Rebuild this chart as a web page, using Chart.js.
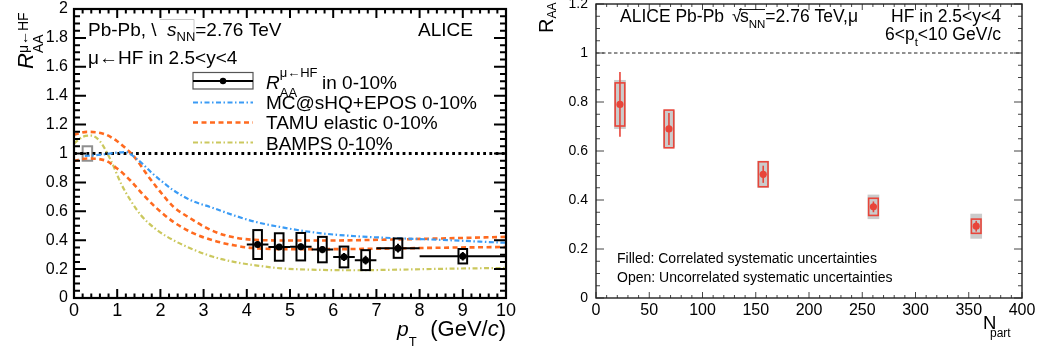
<!DOCTYPE html>
<html>
<head>
<meta charset="utf-8">
<script src="https://cdn.jsdelivr.net/npm/chart.js@4.4.1/dist/chart.umd.min.js"></script>
<style>
  html, body { margin: 0; padding: 0; background: #fff; overflow: hidden; }
  #wrap { position: relative; width: 1037px; height: 354px; }
  canvas { position: absolute; top: 0; }
  #cPt { left: 0; }
  #cNpart { left: 520px; }
</style>
</head>
<body>
<div id="wrap">
  <canvas id="cPt" width="520" height="354"></canvas>
  <canvas id="cNpart" width="517" height="354"></canvas>
</div>
<script>
// ---------- R_AA vs pT, muons from heavy-flavour decays, 0-10% ----------
const ptBinLow  = [4.0, 4.5, 5.0, 5.5, 6.0, 6.5, 7.0, 8.0];
const ptBinHigh = [4.5, 5.0, 5.5, 6.0, 6.5, 7.0, 8.0, 10.0];
const ptMean    = [4.25, 4.75, 5.25, 5.75, 6.25, 6.75, 7.5, 9.0];
const raaPt     = [0.370, 0.353, 0.355, 0.335, 0.284, 0.262, 0.345, 0.289];
const raaPtStat = [0.020, 0.020, 0.022, 0.025, 0.028, 0.030, 0.030, 0.030];
const raaPtSyst = [0.100, 0.095, 0.095, 0.088, 0.072, 0.069, 0.067, 0.050];
const normUncert = 0.05;          // global normalisation uncertainty at R_AA = 1
const normPt = 0.31;
const unityLevel = 1;

// model curves
const mcshqPt  = [0.25, 0.5, 0.75, 1.0, 1.2, 1.4, 1.6, 1.8, 2.0, 2.3, 2.7, 3.2, 3.7, 4.2, 4.8, 5.6, 6.4, 7.2, 8.0, 8.7, 9.4, 10.0];
const mcshqRaa = [0.983, 0.988, 0.996, 1.006, 1.010, 0.975, 0.925, 0.866, 0.815, 0.746, 0.677, 0.625, 0.572, 0.527, 0.490, 0.452, 0.430, 0.417, 0.408, 0.400, 0.390, 0.382];
const tamuHighPt  = [0.0, 0.3, 0.7, 1.0, 1.2, 1.4, 1.7, 2.0, 2.3, 2.7, 3.1, 3.5, 4.1, 5.0, 6.0, 7.2, 8.5, 10.0];
const tamuHighRaa = [1.130, 1.150, 1.135, 1.085, 1.035, 0.975, 0.850, 0.734, 0.632, 0.550, 0.480, 0.434, 0.404, 0.398, 0.398, 0.404, 0.412, 0.423];
const tamuLowPt  = [0.0, 0.3, 0.7, 1.0, 1.3, 1.6, 1.9, 2.3, 2.7, 3.2, 3.7, 4.1, 5.0, 6.0, 7.2, 8.5, 10.0];
const tamuLowRaa = [0.949, 0.965, 0.954, 0.896, 0.815, 0.715, 0.625, 0.527, 0.457, 0.400, 0.365, 0.347, 0.338, 0.338, 0.342, 0.348, 0.353];
const bampsPt  = [0.0, 0.2, 0.4, 0.6, 0.85, 1.1, 1.3, 1.55, 1.9, 2.3, 2.8, 3.2, 3.7, 4.2, 4.8, 5.5, 6.4, 7.5, 8.7, 10.0];
const bampsRaa = [1.069, 1.115, 1.124, 1.085, 0.954, 0.785, 0.680, 0.573, 0.475, 0.400, 0.331, 0.287, 0.250, 0.226, 0.205, 0.196, 0.192, 0.196, 0.203, 0.208];

const ptTickValues = [0, 1, 2, 3, 4, 5, 6, 7, 8, 9, 10];
const raaTickLabelsPt = ['0', '0.2', '0.4', '0.6', '0.8', '1', '1.2', '1.4', '1.6', '1.8', '2'];

// ---------- R_AA vs Npart, 6 < pT < 10 GeV/c ----------
const npart           = [22.5, 68.5, 157, 260.5, 357];
const raaNpart        = [0.790, 0.690, 0.505, 0.372, 0.293];
const raaNpartStat    = [0.132, 0.065, 0.035, 0.022, 0.022];
const raaNpartUncorr  = [0.088, 0.077, 0.051, 0.035, 0.029];
const raaNpartCorr    = [0.100, 0.075, 0.055, 0.050, 0.051];
const npartTickLabels = ['0', '50', '100', '150', '200', '250', '300', '350', '400'];
const raaTickLabelsNpart = ['0', '0.2', '0.4', '0.6', '0.8', '1', '1.2'];

// ---------- styling ----------
const FONT = "'Liberation Sans', Arial, Helvetica, sans-serif";
const BLUE = '#3a9bf5', ORANGE = '#ff6a1f', OLIVE = '#cbc85e', RED = '#e8453a', GREY_FILL = '#cbcbcb';
Chart.defaults.font.family = FONT;
Chart.defaults.color = '#000';

const zip = (xs, ys) => xs.map((x, i) => ({ x, y: ys[i] }));

function drawParts(ctx, x, y, parts) {
  let cx = x;
  for (const p of parts) {
    ctx.font = (p.italic ? 'italic ' : '') + p.size + 'px ' + FONT;
    const px = p.x !== undefined ? p.x : cx;
    ctx.fillText(p.t, px, y + (p.dy || 0));
    const w = ctx.measureText(p.t).width;
    if (!p.hold) cx = px + w;
  }
  return cx;
}

// frame with inward major/minor ticks on all four sides
function frameTicks(opt) {
  return {
    id: 'frameTicks',
    afterDatasetsDraw(chart) {
      const { ctx, chartArea: a, scales: { x, y } } = chart;
      ctx.save();
      ctx.strokeStyle = opt.color;
      ctx.lineWidth = opt.tickWidth;
      ctx.setLineDash([]);
      ctx.beginPath();
      const nx = Math.round((x.max - x.min) / opt.xMinor);
      for (let i = 0; i <= nx; i++) {
        const v = x.min + i * opt.xMinor;
        const major = i % Math.round(opt.xMajor / opt.xMinor) === 0;
        const len = major ? opt.xMajorLen : opt.xMinorLen;
        const px = x.getPixelForValue(v);
        ctx.moveTo(px, a.bottom); ctx.lineTo(px, a.bottom - len);
        ctx.moveTo(px, a.top); ctx.lineTo(px, a.top + len);
      }
      const ny = Math.round((y.max - y.min) / opt.yMinor);
      for (let i = 0; i <= ny; i++) {
        const v = y.min + i * opt.yMinor;
        const major = i % Math.round(opt.yMajor / opt.yMinor) === 0;
        const len = major ? opt.yMajorLen : opt.yMinorLen;
        const py = y.getPixelForValue(v);
        ctx.moveTo(a.left, py); ctx.lineTo(a.left + len, py);
        ctx.moveTo(a.right, py); ctx.lineTo(a.right - len, py);
      }
      ctx.stroke();
      ctx.lineWidth = opt.frameWidth;
      ctx.strokeStyle = opt.frameColor;
      ctx.strokeRect(a.left, a.top, a.right - a.left, a.bottom - a.top);
      ctx.restore();
    }
  };
}

function fixedAxis(size, isX) {
  return function (scale) {
    if (isX) scale.height = size; else scale.width = size;
    scale.paddingTop = 0; scale.paddingBottom = 0;
    scale.paddingLeft = 0; scale.paddingRight = 0;
  };
}

// ---------- left panel: boxes and error bars ----------
const ptErrors = {
  id: 'ptErrors',
  beforeDatasetsDraw(chart) {
    const { ctx, scales: { x, y } } = chart;
    ctx.save();
    // normalisation box
    ctx.strokeStyle = '#8f8f8f';
    ctx.lineWidth = 2;
    const nx0 = x.getPixelForValue(normPt - 0.11), nx1 = x.getPixelForValue(normPt + 0.11);
    const ny0 = y.getPixelForValue(unityLevel + normUncert), ny1 = y.getPixelForValue(unityLevel - normUncert);
    ctx.strokeRect(nx0, ny0, nx1 - nx0, ny1 - ny0);
    ctx.restore();
  },
  afterDatasetsDraw(chart) {
    const { ctx, scales: { x, y } } = chart;
    ctx.save();
    ctx.strokeStyle = '#000';
    ctx.lineWidth = 2;
    ctx.setLineDash([]);
    for (let i = 0; i < ptMean.length; i++) {
      const cx = x.getPixelForValue(ptMean[i]);
      const cy = y.getPixelForValue(raaPt[i]);
      // systematic box
      const bx0 = x.getPixelForValue(ptMean[i] - 0.1), bx1 = x.getPixelForValue(ptMean[i] + 0.1);
      const by0 = y.getPixelForValue(raaPt[i] + raaPtSyst[i]), by1 = y.getPixelForValue(raaPt[i] - raaPtSyst[i]);
      ctx.strokeRect(bx0, by0, bx1 - bx0, by1 - by0);
      // bin width and statistical bar
      ctx.beginPath();
      ctx.moveTo(x.getPixelForValue(ptBinLow[i]), cy);
      ctx.lineTo(x.getPixelForValue(ptBinHigh[i]), cy);
      ctx.moveTo(cx, y.getPixelForValue(raaPt[i] + raaPtStat[i]));
      ctx.lineTo(cx, y.getPixelForValue(raaPt[i] - raaPtStat[i]));
      ctx.stroke();
    }
    ctx.restore();
  }
};

// ---------- left panel: labels and legend ----------
const ptText = {
  id: 'ptText',
  afterDraw(chart) {
    const ctx = chart.ctx;
    const ds = chart.data.datasets;
    ctx.save();
    ctx.fillStyle = '#000';
    ctx.textAlign = 'left';
    ctx.textBaseline = 'alphabetic';

    drawParts(ctx, 88, 36, [{ t: 'Pb-Pb, \\', size: 19 }]);
    drawParts(ctx, 167, 36, [{ t: 's', size: 19, italic: true }, { t: 'NN', size: 13, dy: 5 }, { t: '=2.76 TeV', size: 19 }]);
    ctx.strokeStyle = '#c8c8c8'; ctx.lineWidth = 1;
    ctx.beginPath(); ctx.moveTo(160, 19.5); ctx.lineTo(194, 19.5); ctx.lineTo(194, 33); ctx.stroke();
    ctx.textAlign = 'right';
    drawParts(ctx, 473, 36, [{ t: 'ALICE', size: 19 }]);
    ctx.textAlign = 'left';
    drawParts(ctx, 88, 64, [{ t: 'μ←HF in 2.5<y<4', size: 19 }]);

    // legend
    const lx0 = 193, lx1 = 253;
    ctx.strokeStyle = '#555'; ctx.lineWidth = 1.2;
    ctx.strokeRect(lx0, 72.5, lx1 - lx0, 16.5);
    ctx.strokeStyle = '#000'; ctx.lineWidth = 2;
    ctx.beginPath(); ctx.moveTo(lx0, 81); ctx.lineTo(lx1, 81); ctx.stroke();
    ctx.beginPath(); ctx.arc(223, 81, 3.2, 0, Math.PI * 2); ctx.fill();
    const rows = [[1, 102.5], [2, 122.5], [4, 142.5]];
    for (const [k, ly] of rows) {
      ctx.strokeStyle = ds[k].borderColor;
      ctx.lineWidth = ds[k].borderWidth;
      ctx.setLineDash(ds[k].borderDash);
      ctx.beginPath(); ctx.moveTo(lx0, ly); ctx.lineTo(lx1, ly); ctx.stroke();
    }
    ctx.setLineDash([]);
    drawParts(ctx, 266, 88.5, [
      { t: 'R', size: 19, italic: true },
      { t: 'μ←HF', size: 13, dy: -12, hold: true },
      { t: 'AA', size: 13, dy: 8 }
    ]);
    drawParts(ctx, 322, 89, [{ t: 'in 0-10%', size: 19 }]);
    drawParts(ctx, 266, 108.5, [{ t: 'MC@sHQ+EPOS 0-10%', size: 19 }]);
    drawParts(ctx, 266, 129.3, [{ t: 'TAMU elastic 0-10%', size: 19 }]);
    drawParts(ctx, 266, 150, [{ t: 'BAMPS 0-10%', size: 19 }]);

    // x title
    drawParts(ctx, 397, 335.5, [{ t: 'p', size: 21, italic: true }, { t: 'T', size: 13, dy: 10.5 }]);
    ctx.font = '22px ' + FONT;
    const wA = ctx.measureText('(GeV/').width, wC2 = ctx.measureText(')').width;
    ctx.font = 'italic 22px ' + FONT;
    const wC = ctx.measureText('c').width;
    const start = 506 - (wA + wC + wC2);
    drawParts(ctx, start, 335.5, [{ t: '(GeV/', size: 22 }, { t: 'c', size: 22, italic: true }, { t: ')', size: 22 }]);

    // y title
    ctx.save();
    ctx.translate(33, 69);
    ctx.rotate(-Math.PI / 2);
    drawParts(ctx, 0, 0, [
      { t: 'R', size: 22, italic: true },
      { t: 'μ←HF', size: 14, dy: -5, hold: true },
      { t: 'AA', size: 14, dy: 10 }
    ]);
    ctx.restore();
    ctx.restore();
  }
};

const lineBase = { showLine: true, pointRadius: 0, fill: false, cubicInterpolationMode: 'monotone' };

new Chart(document.getElementById('cPt'), {
  type: 'scatter',
  data: {
    datasets: [
      { label: 'R_AA 0-10%', data: zip(ptMean, raaPt), pointRadius: 3.5, pointBackgroundColor: '#000', pointBorderColor: '#000', pointBorderWidth: 0, showLine: false },
      Object.assign({ label: 'MC@sHQ+EPOS 0-10%', data: zip(mcshqPt, mcshqRaa), borderColor: BLUE, borderWidth: 2.2, borderDash: [5, 2.5, 1.5, 2.5] }, lineBase),
      Object.assign({ label: 'TAMU elastic 0-10%', data: zip(tamuHighPt, tamuHighRaa), borderColor: ORANGE, borderWidth: 2.6, borderDash: [5, 3.5] }, lineBase),
      Object.assign({ label: 'TAMU elastic 0-10% (lower)', data: zip(tamuLowPt, tamuLowRaa), borderColor: ORANGE, borderWidth: 2.6, borderDash: [5, 3.5] }, lineBase),
      Object.assign({ label: 'BAMPS 0-10%', data: zip(bampsPt, bampsRaa), borderColor: OLIVE, borderWidth: 2.2, borderDash: [5, 2.5, 1.5, 2.5] }, lineBase),
      Object.assign({ label: 'unity', data: [{ x: ptTickValues[0], y: unityLevel }, { x: ptTickValues[ptTickValues.length - 1], y: unityLevel }], borderColor: '#000', borderWidth: 2.8, borderDash: [2.8, 3.4] }, lineBase)
    ]
  },
  options: {
    responsive: false, animation: false, devicePixelRatio: 1,
    layout: { padding: { top: 9, right: 14, left: 0, bottom: 0 } },
    plugins: { legend: { display: false }, tooltip: { enabled: false } },
    events: [],
    scales: {
      x: {
        type: 'linear', min: 0, max: 10,
        grid: { display: false, drawTicks: false }, border: { display: false },
        ticks: { stepSize: 1, autoSkip: false, maxRotation: 0, padding: 2, font: { size: 18 },
                 callback: (v) => { const i = ptTickValues.indexOf(v); return i >= 0 ? String(ptTickValues[i]) : ''; } },
        afterFit: fixedAxis(56, true)
      },
      y: {
        type: 'linear', min: 0, max: 2,
        grid: { display: false, drawTicks: false }, border: { display: false },
        ticks: { stepSize: 0.2, autoSkip: false, padding: 6, font: { size: 16 },
                 callback: (v) => raaTickLabelsPt[Math.round(v / 0.2)] },
        afterFit: fixedAxis(74, false)
      }
    }
  },
  plugins: [ptErrors, frameTicks({ xMajor: 1, xMinor: 0.2, yMajor: 0.2, yMinor: 0.05,
    xMajorLen: 9, xMinorLen: 4.5, yMajorLen: 12, yMinorLen: 6, tickWidth: 2, color: '#000', frameWidth: 2.2, frameColor: '#000' }), ptText]
});

// ---------- right panel ----------
const npartErrors = {
  id: 'npartErrors',
  beforeDatasetsDraw(chart) {
    const { ctx, scales: { x, y } } = chart;
    ctx.save();
    for (let i = 0; i < npart.length; i++) {
      const cx = x.getPixelForValue(npart[i]);
      // correlated systematics (filled)
      const gx0 = x.getPixelForValue(npart[i] - 5.5), gx1 = x.getPixelForValue(npart[i] + 5.5);
      const gy0 = y.getPixelForValue(raaNpart[i] + raaNpartCorr[i]), gy1 = y.getPixelForValue(raaNpart[i] - raaNpartCorr[i]);
      ctx.fillStyle = GREY_FILL;
      ctx.fillRect(gx0, gy0, gx1 - gx0, gy1 - gy0);
      // uncorrelated systematics (open)
      const rx0 = x.getPixelForValue(npart[i] - 4.5), rx1 = x.getPixelForValue(npart[i] + 4.5);
      const ry0 = y.getPixelForValue(raaNpart[i] + raaNpartUncorr[i]), ry1 = y.getPixelForValue(raaNpart[i] - raaNpartUncorr[i]);
      ctx.strokeStyle = RED; ctx.lineWidth = 1.6;
      ctx.strokeRect(rx0, ry0, rx1 - rx0, ry1 - ry0);
      // statistical
      ctx.beginPath();
      ctx.moveTo(cx, y.getPixelForValue(raaNpart[i] + raaNpartStat[i]));
      ctx.lineTo(cx, y.getPixelForValue(raaNpart[i] - raaNpartStat[i]));
      ctx.stroke();
    }
    ctx.restore();
  }
};

const npartText = {
  id: 'npartText',
  afterDraw(chart) {
    const ctx = chart.ctx;
    ctx.save();
    ctx.fillStyle = '#000';
    ctx.textAlign = 'left';
    ctx.textBaseline = 'alphabetic';
    drawParts(ctx, 100, 21.7, [{ t: 'ALICE Pb-Pb', size: 17.5 }]);
    drawParts(ctx, 212, 21.7, [{ t: '√', size: 17.5 }]);
    drawParts(ctx, 220, 21.7, [{ t: 's', size: 17.5 }, { t: 'NN', size: 11.5, dy: 6 }, { t: '=2.76 TeV,μ', size: 17.5 }]);
    ctx.strokeStyle = '#000'; ctx.lineWidth = 0.9;
    ctx.beginPath(); ctx.moveTo(219, 9.5); ctx.lineTo(245, 9.5); ctx.stroke();
    ctx.textAlign = 'right';
    drawParts(ctx, 481, 21.7, [{ t: 'HF in 2.5<y<4', size: 17.5 }]);
    ctx.textAlign = 'left';
    ctx.font = '17.5px ' + FONT;
    const wRow = ctx.measureText('6<p<10 GeV/c').width;
    ctx.font = '11.5px ' + FONT;
    const wSub = ctx.measureText('t').width;
    drawParts(ctx, 481 - wRow - wSub, 40, [{ t: '6<p', size: 17.5 }, { t: 't', size: 11.5, dy: 6 }, { t: '<10 GeV/c', size: 17.5 }]);

    drawParts(ctx, 97, 262.7, [{ t: 'Filled: Correlated systematic uncertainties', size: 14 }]);
    drawParts(ctx, 97, 281.7, [{ t: 'Open: Uncorrelated systematic uncertainties', size: 14 }]);

    // x title
    drawParts(ctx, 463, 329, [{ t: 'N', size: 18.5 }]);
    drawParts(ctx, 470, 336.5, [{ t: 'part', size: 12 }]);

    // y title
    ctx.save();
    ctx.translate(33, 33);
    ctx.rotate(-Math.PI / 2);
    drawParts(ctx, 0, 0, [{ t: 'R', size: 20 }, { t: 'AA', size: 12, dy: 3 }]);
    ctx.restore();
    ctx.restore();
  }
};

new Chart(document.getElementById('cNpart'), {
  type: 'scatter',
  data: {
    datasets: [
      { label: 'R_AA vs Npart', data: zip(npart, raaNpart), pointRadius: 3.6, pointBackgroundColor: RED, pointBorderColor: RED, pointBorderWidth: 0, showLine: false },
      Object.assign({ label: 'unity', data: [{ x: 0, y: unityLevel }, { x: 400, y: unityLevel }], borderColor: '#222', borderWidth: 1, borderDash: [3.5, 2.5] }, lineBase)
    ]
  },
  options: {
    responsive: false, animation: false, devicePixelRatio: 1,
    layout: { padding: { top: 2, right: 15, left: 0, bottom: 0 } },
    plugins: { legend: { display: false }, tooltip: { enabled: false } },
    events: [],
    scales: {
      x: {
        type: 'linear', min: 0, max: 400,
        grid: { display: false, drawTicks: false }, border: { display: false },
        ticks: { stepSize: 50, autoSkip: false, maxRotation: 0, padding: 3, font: { size: 16 },
                 callback: (v) => npartTickLabels[Math.round(v / 50)] },
        afterFit: fixedAxis(56, true)
      },
      y: {
        type: 'linear', min: 0, max: 1.2,
        grid: { display: false, drawTicks: false }, border: { display: false },
        ticks: { stepSize: 0.2, autoSkip: false, padding: 8, font: { size: 14 },
                 callback: (v) => raaTickLabelsNpart[Math.round(v / 0.2)] },
        afterFit: fixedAxis(76, false)
      }
    }
  },
  plugins: [npartErrors, frameTicks({ xMajor: 50, xMinor: 10, yMajor: 0.2, yMinor: 0.05,
    xMajorLen: 6, xMinorLen: 3, yMajorLen: 8, yMinorLen: 4, tickWidth: 1, color: '#444', frameWidth: 1.4, frameColor: '#222' }), npartText]
});
</script>
</body>
</html>
